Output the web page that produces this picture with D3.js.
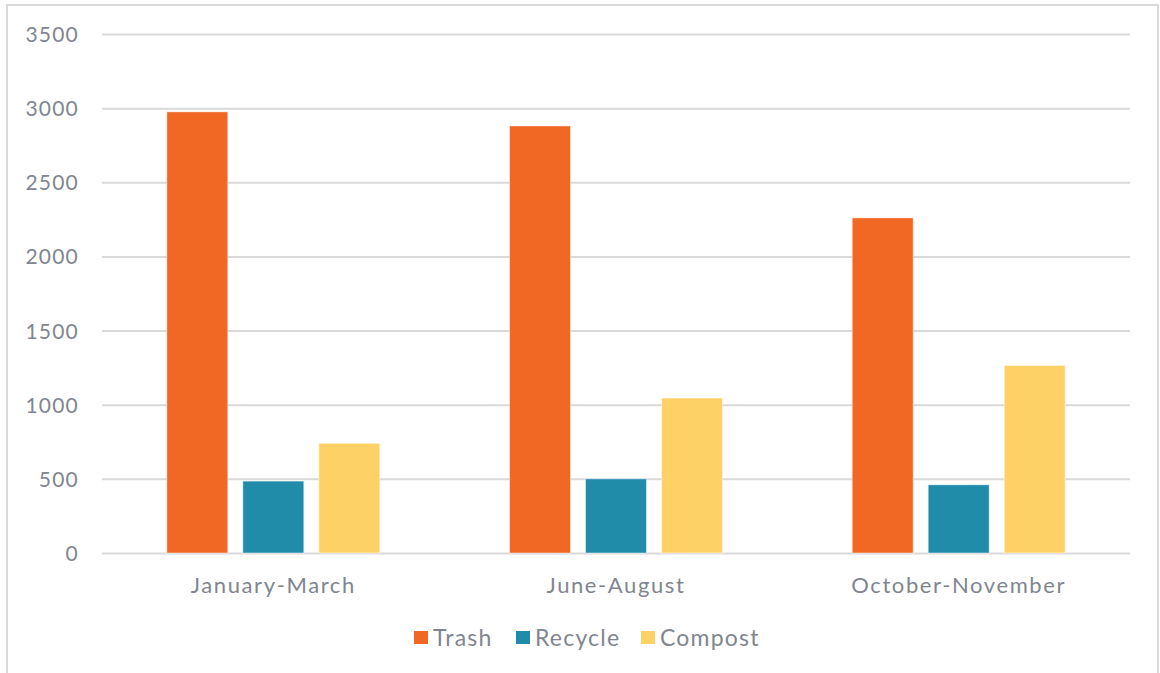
<!DOCTYPE html>
<html>
<head>
<meta charset="utf-8">
<script src="https://cdn.jsdelivr.net/npm/d3@7"></script>
<style>
  html, body { margin: 0; padding: 0; background: #fff; }
  svg { display: block; }
  text { font-family: Lato, "Open Sans", sans-serif; fill: #7f8690; }
</style>
</head>
<body>
<svg id="chart" width="1160" height="673"></svg>
<script>
const categories = ["January-March", "June-August", "October-November"];
const seriesNames = ["Trash", "Recycle", "Compost"];
const trash = [2975, 2880, 2260];
const recycle = [485, 500, 460];
const compost = [740, 1045, 1265];
const yTicks = [0, 500, 1000, 1500, 2000, 2500, 3000, 3500];
const colors = ["#f16824", "#208ca9", "#fed166"];

const seriesValues = [trash, recycle, compost];
const data = categories.map((c, i) => ({
  category: c,
  values: seriesNames.map((s, j) => ({ series: s, value: seriesValues[j][i] }))
}));

const svg = d3.select("#chart");
const W = 1160, H = 673;
const plot = { left: 102, right: 1130, top: 34, bottom: 553 };

// outer border (open at bottom, like the cropped reference)
svg.append("path")
  .attr("d", `M7,${H + 2} V5 H1158 V${H + 2}`)
  .attr("fill", "none")
  .attr("stroke", "#d9d9d9")
  .attr("stroke-width", 2);

const y = d3.scaleLinear().domain([0, 3500]).range([plot.bottom, plot.top]);
const x0 = d3.scaleBand().domain(categories).range([plot.left, plot.right]).padding(0);
const groupPad = (x0.bandwidth() - 213) / 2;
const x1 = d3.scaleBand().domain(seriesNames)
  .range([groupPad, x0.bandwidth() - groupPad])
  .paddingInner(15 / 76).paddingOuter(0);
const color = d3.scaleOrdinal().domain(seriesNames).range(colors);

// gridlines via axis
const yAxis = d3.axisLeft(y).tickValues(yTicks)
  .tickSize(-(plot.right - plot.left)).tickPadding(23).tickFormat(d3.format("d"));
const gy = svg.append("g").attr("transform", `translate(${plot.left},0)`).call(yAxis);
gy.select(".domain").remove();
gy.selectAll(".tick line").attr("stroke", "#d9d9d9").attr("stroke-width", 2);
gy.selectAll(".tick text").attr("font-size", 21).attr("letter-spacing", 1.2)
  .attr("fill", "#7f8690").attr("dy", "0.36em");

// bars
const groups = svg.append("g").selectAll("g").data(data).join("g")
  .attr("transform", d => `translate(${x0(d.category)},0)`);
groups.selectAll("rect").data(d => d.values).join("rect")
  .attr("x", d => x1(d.series))
  .attr("width", x1.bandwidth())
  .attr("y", d => y(d.value))
  .attr("height", d => y(0) - y(d.value))
  .attr("fill", d => color(d.series))
  .attr("stroke", "#ffffff").attr("stroke-opacity", 0.6).attr("stroke-width", 0.8);

// category axis
const xAxis = d3.axisBottom(x0).tickSize(0).tickPadding(0);
const gx = svg.append("g").attr("transform", `translate(0,${plot.bottom})`).call(xAxis);
gx.select(".domain").remove();
gx.selectAll(".tick text").attr("font-size", 22).attr("letter-spacing", 1.6)
  .attr("fill", "#7f8690").attr("dy", 0).attr("y", 40);

// legend
const legendItems = [
  { name: "Trash", x: 414 },
  { name: "Recycle", x: 516 },
  { name: "Compost", x: 641 }
];
const lg = svg.append("g").selectAll("g").data(legendItems).join("g")
  .attr("transform", d => `translate(${d.x},631)`);
lg.append("rect").attr("width", 14).attr("height", 13)
  .attr("fill", d => color(d.name));
lg.append("text").attr("x", 19).attr("y", 14.5)
  .attr("font-size", 23).attr("letter-spacing", 1.2)
  .attr("fill", "#7f8690").text(d => d.name);
</script>
</body>
</html>
